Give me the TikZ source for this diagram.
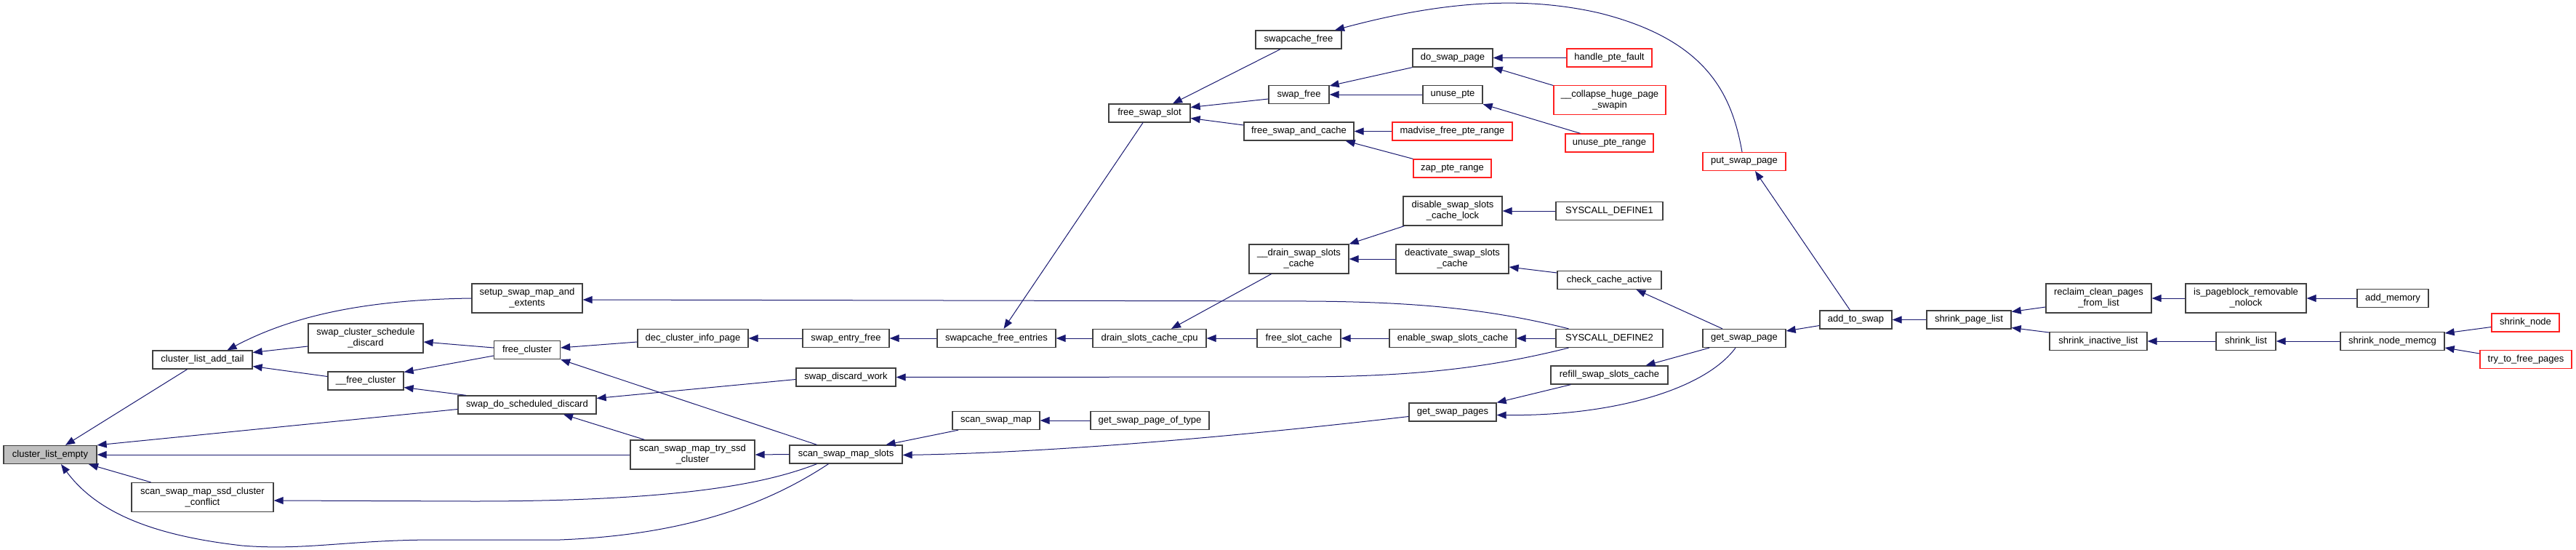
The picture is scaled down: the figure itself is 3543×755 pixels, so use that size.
\documentclass[tikz,border=0pt]{standalone}
\usepackage{fontspec}
\setmainfont{Liberation Sans}
\usetikzlibrary{arrows.meta,calc}
\definecolor{edgeblue}{HTML}{191970}
\definecolor{nodegray}{HTML}{BFBFBF}
\definecolor{boxline}{HTML}{404040}
\definecolor{boxred}{HTML}{FF2020}
\begin{document}
\begin{tikzpicture}[x=1pt,y=-1pt,
  fn/.style={draw=boxline, line width=1.3pt, fill=white, inner sep=0pt, align=center,
             font=\fontsize{13}{15}\selectfont, minimum height=25pt},
  fn2/.style={fn, minimum height=40pt},
  trunc/.style={draw=boxred},
  edge/.style={draw=edgeblue, line width=1pt, -{Triangle[length=13pt,width=10pt]}},
]
\useasboundingbox (0,0) rectangle (3543,755);
% nodes
\node[fn, minimum width=128pt, fill=nodegray] (cle) at (69,625) {cluster\_list\_empty};
\node[fn, minimum width=137pt] (clat) at (278.5,494.5) {cluster\_list\_add\_tail};
\node[fn2, minimum width=158pt] (scsd) at (503,465) {swap\_cluster\_schedule\\\_discard};
\node[fn, minimum width=104pt] (ufc) at (503,523.5) {\_\_free\_cluster};
\node[fn2, minimum width=195pt] (ssmscc) at (278.5,683.5) {scan\_swap\_map\_ssd\_cluster\\\_conflict};
\node[fn2, minimum width=152pt] (ssmae) at (725,410) {setup\_swap\_map\_and\\\_extents};
\node[fn, minimum width=91pt] (fc) at (725,481) {free\_cluster};
\node[fn, minimum width=152pt] (dcip) at (953,465) {dec\_cluster\_info\_page};
\node[fn, minimum width=119pt] (sef) at (1163.5,465) {swap\_entry\_free};
\node[fn, minimum width=190pt] (sdsd) at (725,556.5) {swap\_do\_scheduled\_discard};
\node[fn, minimum width=137pt] (sdw) at (1163.5,518.5) {swap\_discard\_work};
\node[fn2, minimum width=171pt] (ssmtsc) at (952.5,625) {scan\_swap\_map\_try\_ssd\\\_cluster};
\node[fn, minimum width=155pt] (ssms) at (1163.5,624.5) {scan\_swap\_map\_slots};
\node[fn, minimum width=163pt] (sfe) at (1370.5,465) {swapcache\_free\_entries};
\node[fn, minimum width=156pt] (dscc) at (1581,465) {drain\_slots\_cache\_cpu};
\node[fn, minimum width=115pt] (fsc) at (1786.5,465) {free\_slot\_cache};
\node[fn, minimum width=120pt] (ssm) at (1370,578) {scan\_swap\_map};
\node[fn, minimum width=163pt] (gsppot) at (1581.5,578) {get\_swap\_page\_of\_type};
\node[fn2, minimum width=137pt] (dssc) at (1786.5,356) {\_\_drain\_swap\_slots\\\_cache};
\node[fn, minimum width=118pt] (scf) at (1786,54.5) {swapcache\_free};
\node[fn, minimum width=110pt] (dsp) at (1998,79.5) {do\_swap\_page};
\node[fn, trunc, minimum width=117pt] (hpf) at (2213.5,79.5) {handle\_pte\_fault};
\node[fn, minimum width=83pt] (sf) at (1786.5,130) {swap\_free};
\node[fn, minimum width=82pt] (up) at (1998,130) {unuse\_pte};
\node[fn2, trunc, minimum width=154pt] (chps) at (2214,137.5) {\_\_collapse\_huge\_page\\\_swapin};
\node[fn, minimum width=112pt] (fss) at (1581,155.5) {free\_swap\_slot};
\node[fn, minimum width=151pt] (fsac) at (1786.5,180.5) {free\_swap\_and\_cache};
\node[fn, trunc, minimum width=165pt] (mfpr) at (1997.5,180.5) {madvise\_free\_pte\_range};
\node[fn, trunc, minimum width=121pt] (upr) at (2213.5,196.5) {unuse\_pte\_range};
\node[fn, trunc, minimum width=107pt] (zpr) at (1997.5,231.5) {zap\_pte\_range};
\node[fn2, minimum width=136pt] (dsscl) at (1998,290) {disable\_swap\_slots\\\_cache\_lock};
\node[fn, minimum width=147pt] (sdone) at (2213.5,290) {SYSCALL\_DEFINE1};
\node[fn2, minimum width=155pt] (dasc) at (1997.5,356) {deactivate\_swap\_slots\\\_cache};
\node[fn, minimum width=143pt] (cca) at (2213.5,385) {check\_cache\_active};
\node[fn, minimum width=174pt] (essc) at (1998,465) {enable\_swap\_slots\_cache};
\node[fn, minimum width=147pt] (sdtwo) at (2213.5,465) {SYSCALL\_DEFINE2};
\node[fn, minimum width=114pt] (gsp) at (2399,465) {get\_swap\_page};
\node[fn, minimum width=99pt] (ats) at (2552.5,439.5) {add\_to\_swap};
\node[fn, minimum width=161pt] (rssc) at (2213.5,515.5) {refill\_swap\_slots\_cache};
\node[fn, minimum width=120pt] (gsps) at (1998,566.5) {get\_swap\_pages};
\node[fn, trunc, minimum width=114pt] (psp) at (2399,222) {put\_swap\_page};
\node[fn, minimum width=116pt] (spl) at (2708,439.5) {shrink\_page\_list};
\node[fn2, minimum width=145pt] (rcpfl) at (2886.5,410) {reclaim\_clean\_pages\\\_from\_list};
\node[fn2, minimum width=166pt] (ipbrn) at (3089,410) {is\_pageblock\_removable\\\_nolock};
\node[fn, minimum width=98pt] (am) at (3291,410) {add\_memory};
\node[fn, minimum width=134pt] (sil) at (2886,469) {shrink\_inactive\_list};
\node[fn, minimum width=82pt] (sl) at (3089,469) {shrink\_list};
\node[fn, minimum width=143pt] (snm) at (3290.5,469) {shrink\_node\_memcg};
\node[fn, trunc, minimum width=93pt] (sn) at (3473.5,443.5) {shrink\_node};
\node[fn, trunc, minimum width=126pt] (ttfp) at (3474,494) {try\_to\_free\_pages};
% edges
\draw[edge] ($(clat.south)+(-21,0)$) -- ($(cle.north)+(21,0)$);
\draw[edge] (ssmae.west) .. controls (500,412) and (400,435) .. ($(clat.north)+(34,0)$);
\draw[edge] ($(scsd.west)+(0,11)$) -- ($(clat.east)+(0,-10)$);
\draw[edge] ($(ufc.west)+(0,-6)$) -- ($(clat.east)+(0,9)$);
\draw[edge] ($(fc.west)+(0,-3)$) -- ($(scsd.east)+(0,5)$);
\draw[edge] ($(fc.west)+(0,8)$) -- ($(ufc.east)+(0,-12)$);
\draw[edge] ($(sdsd.north)+(-84,0)$) -- ($(ufc.east)+(0,9)$);
\draw[edge] ($(sdsd.west)+(0,6)$) -- (cle.north east);
\draw[edge] (ssmtsc.west) -- (cle.east);
\draw[edge] ($(ssmscc.north)+(-71,0)$) -- ($(cle.south)+(53,0)$);
\draw[edge] ($(ssms.south)+(-40,0)$) .. controls (1060,662) and (950,689) .. (650,689) -- ($(ssmscc.east)+(0,4.5)$);
\draw[edge] ($(ssms.south)+(-24,0)$) .. controls (1060,690) and (950,735) .. (770,742) -- (600,742) .. controls (480,742) and (420,757) .. (333,750) .. controls (200,735) and (130,700) .. ($(cle.south)+(15,0)$);
\draw[edge] ($(dcip.west)+(0,5)$) -- ($(fc.east)+(0,-3)$);
\draw[edge] (sef.west) -- (dcip.east);
\draw[edge] ($(ssms.north)+(-40,0)$) -- (fc.south east);
\draw[edge] ($(sdw.west)+(0,3)$) -- ($(sdsd.east)+(0,-9)$);
\draw[edge] ($(ssmtsc.north)+(-66,0)$) -- ($(sdsd.south)+(50,0)$);
\draw[edge] (ssms.west) -- (ssmtsc.east);
\draw[edge] ($(sdtwo.north)+(-56,0)$) .. controls (2050,425) and (1950,415) .. (1800,414) -- ($(ssmae.east)+(0,2)$);
\draw[edge] (sfe.west) -- (sef.east);
\draw[edge] (dscc.west) -- (sfe.east);
\draw[edge] (fsc.west) -- (dscc.east);
\draw[edge] (essc.west) -- (fsc.east);
\draw[edge] (sdtwo.west) -- (essc.east);
\draw[edge] ($(fss.south)+(-9,0)$) -- ($(sfe.north)+(10,0)$);
\draw[edge] ($(dssc.south)+(-38,0)$) -- ($(dscc.north)+(30,0)$);
\draw[edge] ($(sdtwo.south)+(-56,0)$) .. controls (2050,505) and (1950,517) .. (1800,518) -- (sdw.east);
\draw[edge] (gsppot.west) -- (ssm.east);
\draw[edge] ($(ssm.south)+(-52,0)$) -- ($(ssms.north)+(55,0)$);
\draw[edge] ($(gsps.west)+(0,6)$) .. controls (1700,600) and (1450,622) .. ($(ssms.east)+(0,1)$);
\draw[edge] ($(scf.south)+(-25,0)$) -- ($(fss.north)+(32,0)$);
\draw[edge] ($(sf.west)+(0,6)$) -- ($(fss.east)+(0,-8)$);
\draw[edge] ($(fsac.west)+(0,-8.5)$) -- ($(fss.east)+(0,7)$);
\draw[edge] ($(psp.north)+(-3,0)$) .. controls (2382,130) and (2348,55) .. (2200,18) .. controls (2100,-5) and (1990,0) .. ($(scf.north)+(50,0)$);
\draw[edge] (dsp.south west) -- ($(sf.east)+(0,-12)$);
\draw[edge] (up.west) -- (sf.east);
\draw[edge] (hpf.west) -- (dsp.east);
\draw[edge] ($(chps.west)+(0,-20)$) -- (dsp.south east);
\draw[edge] ($(upr.north)+(-40,0)$) -- (up.south east);
\draw[edge] (mfpr.west) -- (fsac.east);
\draw[edge] (zpr.north west) -- ($(fsac.south east)+(-12,0)$);
\draw[edge] ($(dsscl.south west)+(2,0)$) -- (dssc.north east);
\draw[edge] (dasc.west) -- (dssc.east);
\draw[edge] (sdone.west) -- (dsscl.east);
\draw[edge] ($(cca.west)+(0,-10)$) -- ($(dasc.east)+(0,11)$);
\draw[edge] ($(gsp.north)+(-30,0)$) -- ($(cca.south)+(37,0)$);
\draw[edge] ($(ats.west)+(0,8)$) -- ($(gsp.east)+(0,-10)$);
\draw[edge] ($(gsp.south)+(-48,0)$) -- ($(rssc.north)+(50,0)$);
\draw[edge] ($(rssc.south)+(-53,0)$) -- (gsps.north east);
\draw[edge] ($(gsp.south)+(-12,0)$) .. controls (2345,535) and (2220,572) .. ($(gsps.east)+(0,4)$);
\draw[edge] ($(ats.north)+(-8,0)$) -- ($(psp.south)+(15,0)$);
\draw[edge] (spl.west) -- (ats.east);
\draw[edge] ($(rcpfl.west)+(0,12)$) -- ($(spl.east)+(0,-11)$);
\draw[edge] ($(sil.west)+(0,-12)$) -- ($(spl.east)+(0,11)$);
\draw[edge] (ipbrn.west) -- (rcpfl.east);
\draw[edge] (am.west) -- (ipbrn.east);
\draw[edge] (sl.west) -- (sil.east);
\draw[edge] (snm.west) -- (sl.east);
\draw[edge] ($(sn.west)+(0,6)$) -- ($(snm.east)+(0,-11)$);
\draw[edge] ($(ttfp.west)+(0,-8)$) -- ($(snm.east)+(0,9)$);
\end{tikzpicture}
\end{document}
